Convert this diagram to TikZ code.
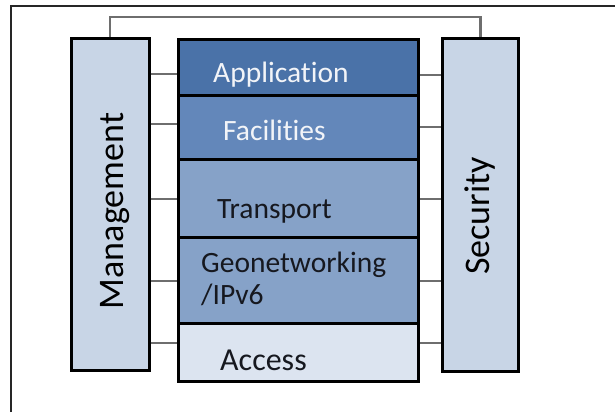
\documentclass[tikz,border=0pt]{standalone}
\usepackage{fontspec}
\setmainfont{Carlito}[Ligatures={NoCommon,NoContextual}]
\definecolor{appc}{HTML}{4A72A8}
\definecolor{facc}{HTML}{6387BA}
\definecolor{trac}{HTML}{86A2C8}
\definecolor{accc}{HTML}{DCE4F0}
\definecolor{sidec}{HTML}{C8D5E6}
\definecolor{conng}{HTML}{6E6E6E}
\definecolor{darktxt}{HTML}{16181F}
\definecolor{lighttxt}{HTML}{F2F4F8}
\begin{document}
\begin{tikzpicture}[x=1pt,y=-1pt,
  box/.style={draw=black, line width=3pt, rectangle, inner sep=0pt},
  conn/.style={draw=conng, line width=2.2pt},
  lbl/.style={anchor=base west, inner sep=0pt, font=\fontsize{29.5}{32}\selectfont},
  side/.style={inner sep=0pt, font=\fontsize{36}{40}\selectfont, text=black, rotate=90}]
\useasboundingbox (0,0) rectangle (615,412);
\fill[white] (0,0) rectangle (615,412);
\draw[line width=1.6pt, draw=black!85] (11,412) -- (11,6) -- (615,6);
% side boxes
\node[box, fill=sidec, minimum width=78pt, minimum height=331pt] (mgmt) at (110,204.5) {};
\node[box, fill=sidec, minimum width=76pt, minimum height=332pt] (sec) at (480.5,205) {};
% stack
\node[box, fill=appc, minimum width=240pt, minimum height=55.5pt] (app) at (298.5,67.25) {};
\node[box, fill=facc, minimum width=240pt, minimum height=64pt] (fac) at (298.5,127) {};
\node[box, fill=trac, minimum width=240pt, minimum height=78pt] (tra) at (298.5,198) {};
\node[box, fill=trac, minimum width=240pt, minimum height=86pt] (geo) at (298.5,280) {};
\node[box, fill=accc, minimum width=240pt, minimum height=58pt] (acc) at (298.5,352) {};
% connectors
\draw[conn] (mgmt.north) -- (mgmt.north |- 0,17) -| (sec.north);
\foreach \yy in {74,124,199,281,343} {
  \draw[conn] (mgmt.east |- 0,\yy) -- (app.west |- 0,\yy);
}
\foreach \yy in {75,127,199,281,343} {
  \draw[conn] (app.east |- 0,\yy) -- (sec.west |- 0,\yy);
}
% labels
\node[lbl, text=lighttxt] (tapp) at (213,82) {Application};
\node[lbl, text=lighttxt] (tfac) at (223,140) {Facilities};
\node[lbl, text=darktxt] (ttra) at (217,218) {Transport};
\node[lbl, text=darktxt] (tgeo) at (201,272) {Geonetworking};
\node[lbl, text=darktxt] (tipv) at (201,304) {/IPv6};
\node[lbl, text=darktxt, font=\fontsize{32}{36}\selectfont] (tacc) at (220,370) {Access};
\node[side] (tmgmt) at (115,211) {Management};
\node[side] (tsec) at (480,216) {Security};
\end{tikzpicture}
\end{document}
